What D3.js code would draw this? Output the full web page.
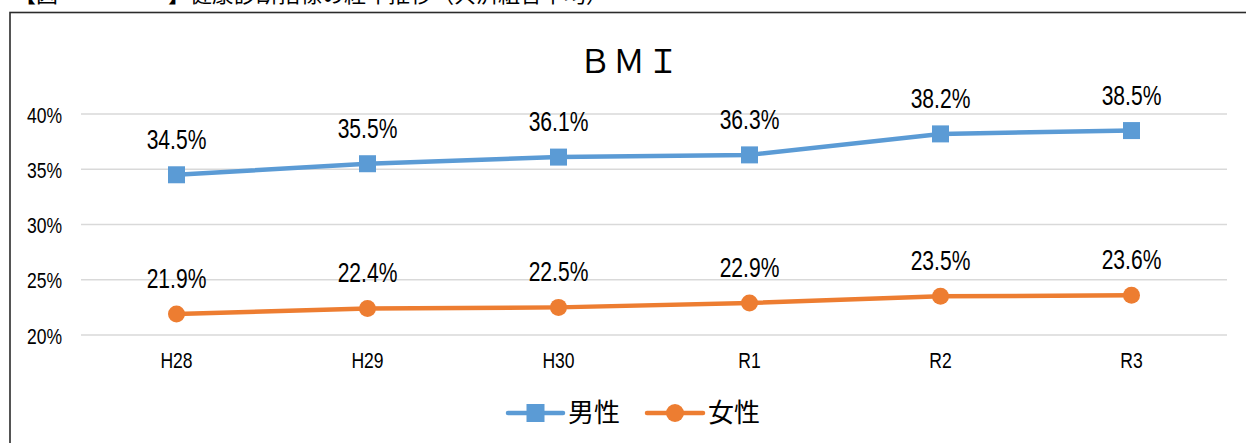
<!DOCTYPE html>
<html><head><meta charset="utf-8">
<script src="https://cdn.jsdelivr.net/npm/d3@7"></script>
<style>
html,body{margin:0;padding:0;background:#fff;overflow:hidden;}
svg{display:block;}
.num{font-family:"Liberation Sans","Arial",sans-serif;}
.cjk{font-family:"Noto Sans CJK JP",sans-serif;}
</style></head>
<body>
<svg id="chart" width="1246" height="443"></svg>
<script>
const headerText = "【図　　　　　】健康診断指標の経年推移（共済組合平均）";
const title = "ＢＭＩ";
const categories = ["H28","H29","H30","R1","R2","R3"];
const seriesNames = ["男性","女性"];
const maleValues = [34.5,35.5,36.1,36.3,38.2,38.5];
const femaleValues = [21.9,22.4,22.5,22.9,23.5,23.6];
const yTicks = [20,25,30,35,40];
const colors = ["#5B9BD5","#ED7D31"];

const svg = d3.select("#chart");

// header (cut off at top, as in the source image)
svg.append("text").attr("class","cjk").attr("x",14).attr("y",2)
  .attr("font-size",22).attr("fill","#000").text(headerText);

// chart frame
svg.append("rect").attr("x",10).attr("y",12.5).attr("width",1260).attr("height",460)
  .attr("fill","#fff").attr("stroke","#2b2b2b").attr("stroke-width",1.6);

const x = d3.scaleBand().domain(categories).range([81,1227]);
const y = d3.scaleLinear().domain([20,40]).range([335,114]);

// gridlines
svg.append("g").selectAll("line").data(yTicks).join("line")
  .attr("x1",81).attr("x2",1227).attr("y1",d=>y(d)).attr("y2",d=>y(d))
  .attr("stroke","#d9d9d9").attr("stroke-width",1.3);

// y axis
const yAxis = d3.axisLeft(y).tickValues(yTicks).tickSize(0).tickPadding(0).tickFormat(d=>d+"%");
const gy = svg.append("g").attr("transform","translate(62,0)").call(yAxis);
gy.select(".domain").remove();
gy.selectAll("text").attr("class","num").attr("font-size",22.5).attr("fill","#000")
  .attr("dy","0.36em").attr("transform","scale(0.78,1)");

// x axis
const xAxis = d3.axisBottom(x).tickSize(0).tickPadding(0);
const gx = svg.append("g").attr("transform","translate(0,352)").call(xAxis);
gx.select(".domain").remove();
gx.selectAll("text").attr("class","num").attr("font-size",22.5).attr("fill","#000")
  .attr("dy","0.71em").attr("transform","scale(0.78,1)");

// title
svg.append("text").attr("class","cjk").attr("x",630).attr("y",73).attr("text-anchor","middle")
  .attr("font-size",32).attr("letter-spacing",2).attr("fill","#000").text(title);

const cx = d => x(d) + x.bandwidth()/2;
const series = [
  {name:seriesNames[0], values:maleValues, color:colors[0], shape:"square"},
  {name:seriesNames[1], values:femaleValues, color:colors[1], shape:"circle"}
];
const line = d3.line().x(d=>cx(d.c)).y(d=>y(d.v));

series.forEach(s=>{
  const pts = categories.map((c,i)=>({c, v:s.values[i]}));
  svg.append("path").datum(pts).attr("d",line).attr("fill","none")
    .attr("stroke",s.color).attr("stroke-width",4.5).attr("stroke-linejoin","round");
  const g = svg.append("g");
  if (s.shape==="square") {
    g.selectAll("rect").data(pts).join("rect")
      .attr("x",d=>cx(d.c)-8.5).attr("y",d=>y(d.v)-8.5).attr("width",17).attr("height",17)
      .attr("fill",s.color);
  } else {
    g.selectAll("circle").data(pts).join("circle")
      .attr("cx",d=>cx(d.c)).attr("cy",d=>y(d.v)).attr("r",8.5).attr("fill",s.color);
  }
  svg.append("g").selectAll("text").data(pts).join("text").attr("class","num")
    .attr("transform",d=>`translate(${cx(d.c)},${y(d.v)-26}) scale(0.78,1)`)
    .attr("text-anchor","middle")
    .attr("font-size",27).attr("fill","#000").text(d=>d.v.toFixed(1)+"%");
});

// legend
const legendPos = [{x0:508, x1:563, tx:568},{x0:647, x1:703, tx:708}];
series.forEach((s,i)=>{
  const p = legendPos[i], ly = 413, mid=(p.x0+p.x1)/2;
  svg.append("line").attr("x1",p.x0).attr("x2",p.x1).attr("y1",ly).attr("y2",ly)
    .attr("stroke",s.color).attr("stroke-width",4.5).attr("stroke-linecap","round");
  if (s.shape==="square") svg.append("rect").attr("x",mid-9).attr("y",ly-9).attr("width",18).attr("height",18).attr("fill",s.color);
  else svg.append("circle").attr("cx",mid).attr("cy",ly).attr("r",9).attr("fill",s.color);
  svg.append("text").attr("class","cjk").attr("x",p.tx).attr("y",ly).attr("dy","0.36em")
    .attr("font-size",26).attr("fill","#000").text(s.name);
});
</script>
</body></html>
